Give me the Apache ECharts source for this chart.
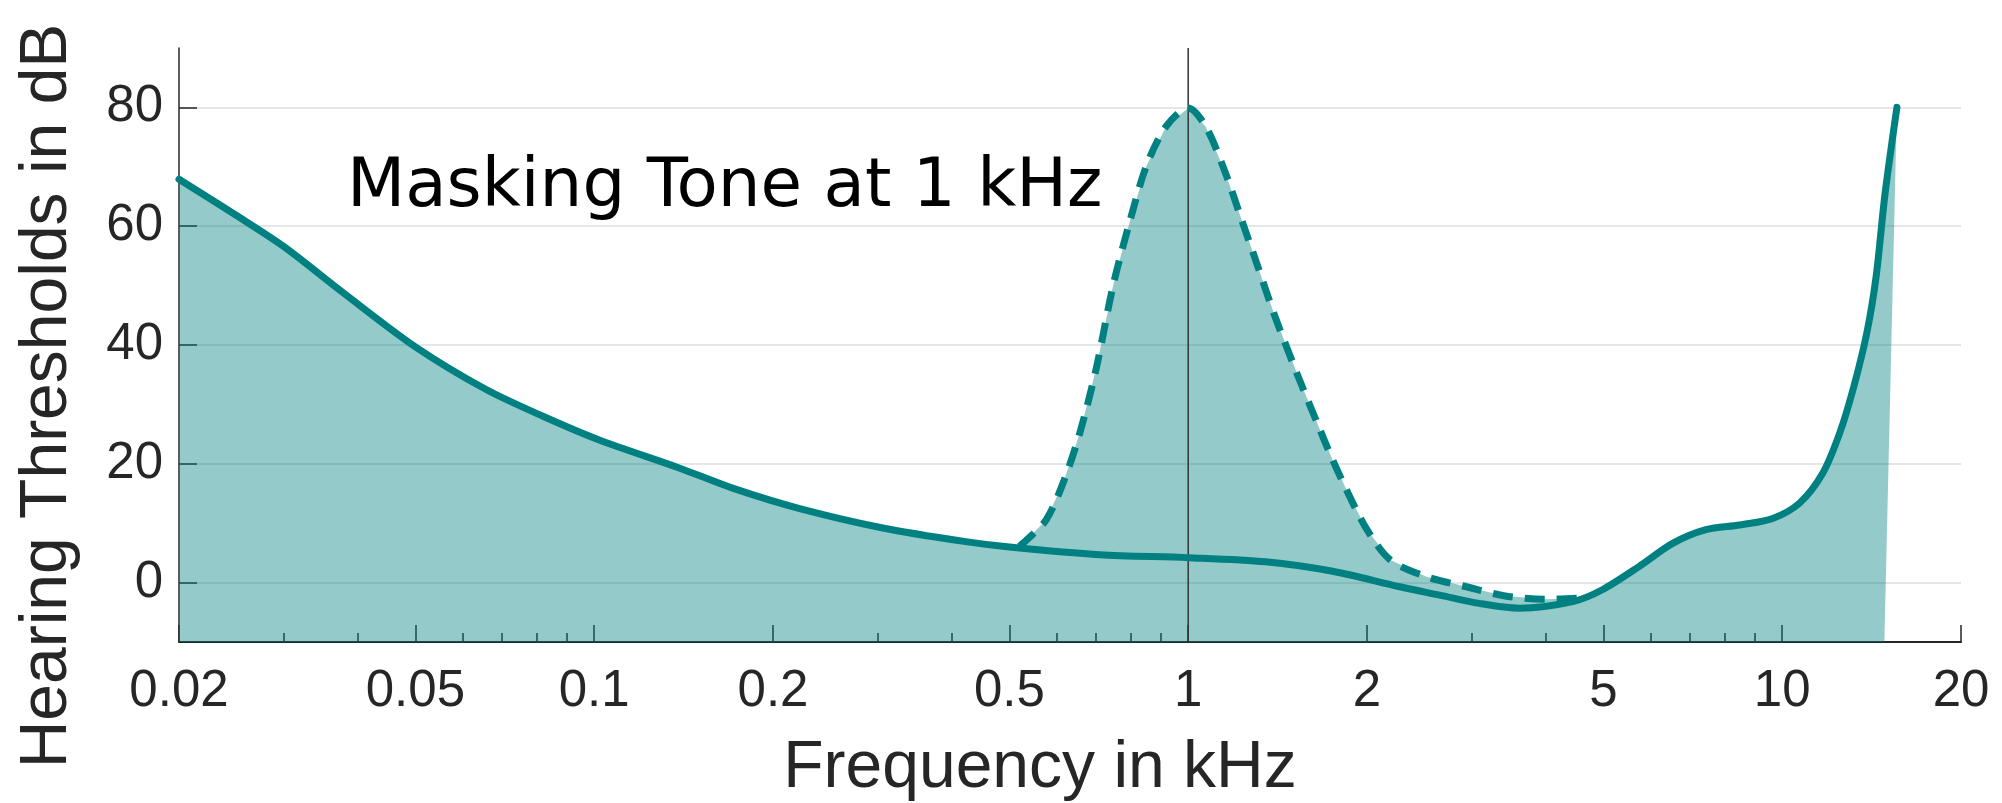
<!DOCTYPE html>
<html>
<head>
<meta charset="utf-8">
<title>Masking Tone at 1 kHz</title>
<script src="https://cdn.jsdelivr.net/npm/echarts@6/dist/echarts.min.js"></script>
<style>
    html, body { margin: 0; padding: 0; background: #ffffff; }
    #maskingChart { width: 2002px; height: 803px; }
</style>
</head>
<body>
<div id="maskingChart"></div>
<script>
// threshold in quiet (solid line): kHz / dB
var quietFreq = [0.02, 0.025, 0.03, 0.0378, 0.05, 0.0658, 0.082, 0.102, 0.139, 0.171, 0.221, 0.306, 0.422, 0.5,
    0.71, 1.0, 1.35, 1.75, 2.27, 2.65, 3.09, 3.61, 4.44, 4.98, 5.74, 6.54, 7.44, 8.48, 9.64, 10.7, 11.7, 12.5,
    13.2, 13.9, 14.4, 14.9, 15.6];
var quietLevel = [67.9, 61.8, 56.6, 48.8, 39.7, 32.5, 28.0, 24.0, 19.3, 15.9, 12.5, 9.2, 6.9, 6.0,
    4.7, 4.2, 3.5, 1.9, -0.7, -2.1, -3.5, -4.3, -3.2, -1.2, 2.7, 6.6, 8.9, 9.7, 10.8, 13.4, 18.4, 25.2,
    33.0, 42.3, 51.7, 65.5, 80.0];

// masking threshold of the 1 kHz tone (dashed line)
var maskFreq = [0.52, 0.535, 0.577, 0.617, 0.657, 0.70, 0.747, 0.796, 0.85, 0.918, 1.0, 1.07, 1.15, 1.23,
    1.31, 1.40, 1.54, 1.65, 1.75, 1.87, 2.0, 2.19, 2.52, 2.94, 3.4, 4.0, 4.6];
var maskLevel = [6.1, 7.2, 10.6, 17.0, 25.2, 36.0, 49.9, 60.5, 70.1, 76.8, 79.9, 76.8, 69.5, 61.1,
    53.2, 44.8, 34.1, 26.8, 20.7, 14.5, 8.9, 3.8, 1.0, -0.7, -2.2, -2.8, -2.6];

// axis ticks
var freqLabels = [0.02, 0.05, 0.1, 0.2, 0.5, 1, 2, 5, 10, 20];
var freqMinor = [0.03, 0.04, 0.06, 0.07, 0.08, 0.09, 0.3, 0.4, 0.6, 0.7, 0.8, 0.9, 3, 4, 6, 7, 8, 9];
var levelLabels = [0, 20, 40, 60, 80];

var toneFreq = 1;          // the masker
var fillEndFreq = 14.86;   // the shaded area meets the bottom here

var teal = '#008080';
var ink = '#262626';

function pairs(xs, ys) {
    var out = [];
    for (var i = 0; i < xs.length; i++) out.push([xs[i], ys[i]]);
    return out;
}

var quietData = pairs(quietFreq, quietLevel);
var maskData = pairs(maskFreq, maskLevel);

// shaded area: quiet threshold, replaced by the masking curve where it applies
var fillData = [];
quietData.forEach(function (p) { if (p[0] < maskFreq[0]) fillData.push(p); });
maskData.forEach(function (p) { fillData.push(p); });
quietData.forEach(function (p) { if (p[0] > maskFreq[maskFreq.length - 1]) fillData.push(p); });
fillData.push([fillEndFreq, -10]);

var chart = echarts.init(document.getElementById('maskingChart'));

var option = {
    animation: false,
    backgroundColor: '#ffffff',
    grid: { left: 179, right: 41, top: 48, bottom: 161 },
    xAxis: [
        {
            type: 'log',
            logBase: 10,
            min: 0.02,
            max: 20,
            axisLine: { show: true, onZero: false, lineStyle: { color: ink, width: 2 } },
            axisTick: { show: true, inside: true, length: 17, customValues: freqLabels, lineStyle: { color: ink, width: 1.5 } },
            axisLabel: {
                show: true,
                customValues: freqLabels,
                margin: 24,
                color: ink,
                fontFamily: 'Liberation Sans',
                fontSize: 51,
                formatter: function (v) { return String(parseFloat(Number(v).toPrecision(3))); }
            },
            splitLine: { show: false },
            minorTick: { show: false }
        },
        {
            // minor ticks only
            type: 'log',
            logBase: 10,
            min: 0.02,
            max: 20,
            position: 'bottom',
            axisLine: { show: false, onZero: false },
            axisTick: { show: true, inside: true, length: 9, customValues: freqMinor, lineStyle: { color: ink, width: 1.5 } },
            axisLabel: { show: false },
            splitLine: { show: false }
        }
    ],
    yAxis: {
        type: 'value',
        min: -10,
        max: 90,
        axisLine: { show: true, onZero: false, lineStyle: { color: ink, width: 1.5 } },
        axisTick: { show: true, inside: true, length: 18, customValues: levelLabels, lineStyle: { color: ink, width: 1.5 } },
        axisLabel: {
            show: true,
            customValues: levelLabels,
            margin: 16,
            color: ink,
            fontFamily: 'Liberation Sans',
            fontSize: 51
        },
        splitLine: { show: true, lineStyle: { color: '#dedede', width: 1.5 } }
    },
    graphic: [
        {
            type: 'text',
            x: 1040,
            y: 769,
            style: {
                text: 'Frequency in kHz',
                font: '66px "Liberation Sans"',
                fill: ink,
                align: 'center',
                verticalAlign: 'middle'
            }
        },
        {
            type: 'text',
            x: 48,
            y: 396,
            rotation: Math.PI / 2,
            style: {
                text: 'Hearing Thresholds in dB',
                font: '66px "Liberation Sans"',
                fill: ink,
                align: 'center',
                verticalAlign: 'middle'
            }
        },
        {
            type: 'text',
            x: 347,
            y: 188,
            z: 10,
            style: {
                text: 'Masking Tone at 1 kHz',
                font: '67.5px "DejaVu Sans"',
                fill: '#000000',
                align: 'left',
                verticalAlign: 'middle'
            }
        }
    ],
    series: [
        {
            // vertical marker at the tone frequency
            type: 'line',
            data: [[toneFreq, -10], [toneFreq, 90]],
            symbol: 'none',
            lineStyle: { color: '#333333', width: 1.5 },
            silent: true
        },
        {
            type: 'line',
            data: fillData,
            symbol: 'none',
            smooth: false,
            lineStyle: { width: 0 },
            areaStyle: { color: teal, opacity: 0.42, origin: 'start' },
            silent: true
        },
        {
            type: 'line',
            data: quietData,
            symbol: 'none',
            smooth: 0.3,
            lineStyle: { color: teal, width: 7, cap: 'round' }
        },
        {
            type: 'line',
            data: maskData,
            symbol: 'none',
            smooth: 0.3,
            lineStyle: { color: teal, width: 7, type: [20, 12], cap: 'butt' }
        }
    ]
};

chart.setOption(option);
</script>
</body>
</html>
